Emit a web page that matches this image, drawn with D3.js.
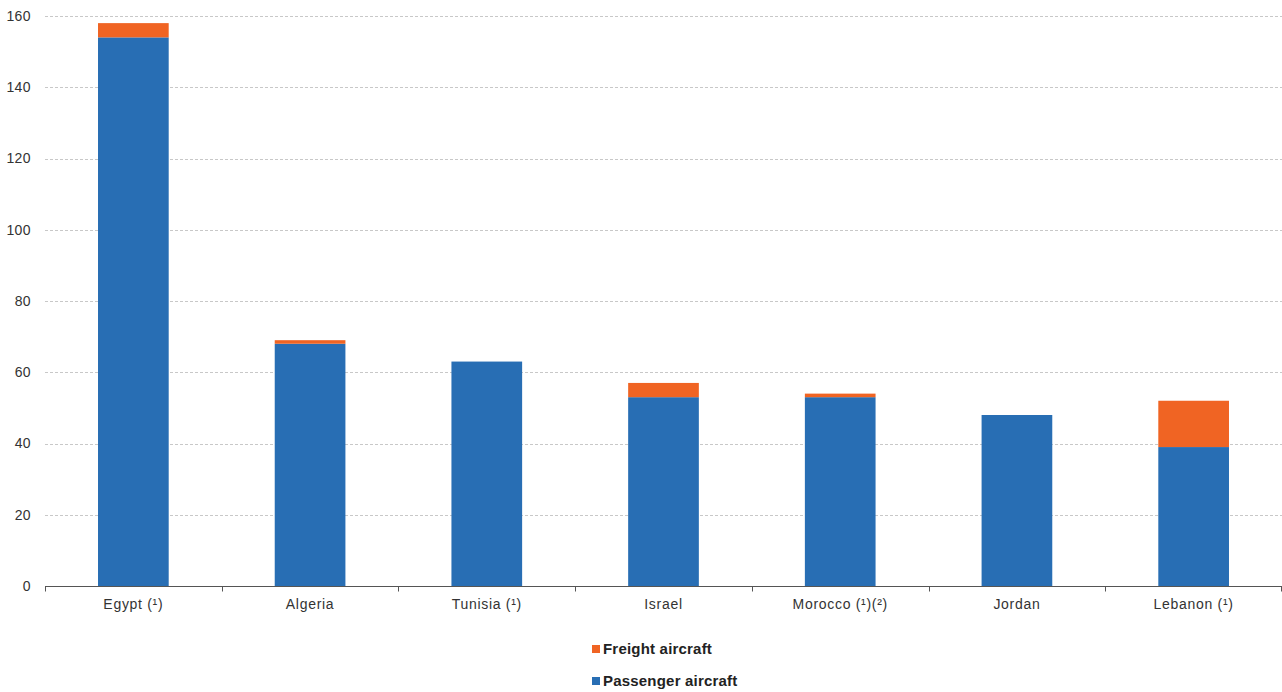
<!DOCTYPE html>
<html>
<head>
<meta charset="utf-8">
<script src="https://cdn.jsdelivr.net/npm/d3@7"></script>
<style>
  html, body { margin: 0; padding: 0; background: #fff; }
  svg { display: block; font-family: "Liberation Sans", Arial, sans-serif; }
</style>
</head>
<body>
<svg id="chart" width="1282" height="692"></svg>
<script>
// Number of aircraft by country
const categories = ["Egypt (¹)", "Algeria", "Tunisia (¹)", "Israel", "Morocco (¹)(²)", "Jordan", "Lebanon (¹)"];
const passenger = [154, 68, 63, 53, 53, 48, 39];
const freight = [4, 1, 0, 4, 1, 0, 13];
const yTicks = [0, 20, 40, 60, 80, 100, 120, 140, 160];
const seriesNames = ["Passenger aircraft", "Freight aircraft"];
const colors = { "Passenger aircraft": "#286EB4", "Freight aircraft": "#F06423" };

const svg = d3.select("#chart");
const margin = { left: 45, right: 0, top: 16, bottom: 106 };
const W = 1282, H = 692;

const x = d3.scaleBand().domain(categories).range([margin.left, W - margin.right]).padding(0);
const y = d3.scaleLinear().domain([0, 160]).range([H - margin.bottom, margin.top]);

// gridlines
svg.append("g")
  .selectAll("line")
  .data(yTicks.filter(t => t > 0))
  .join("line")
  .attr("x1", margin.left).attr("x2", W - margin.right)
  .attr("y1", d => Math.round(y(d)) + 0.5).attr("y2", d => Math.round(y(d)) + 0.5)
  .attr("stroke", "#c8c8c8")
  .attr("stroke-dasharray", "3,2");

// y tick labels
svg.append("g")
  .selectAll("text")
  .data(yTicks)
  .join("text")
  .attr("x", 31)
  .attr("y", d => y(d))
  .attr("dy", "0.35em")
  .attr("text-anchor", "end")
  .attr("font-size", 14)
  .attr("letter-spacing", "0.4px")
  .attr("fill", "#333")
  .text(d => d);

// stacked bars
const rows = categories.map((c, i) => ({ cat: c, "Passenger aircraft": passenger[i], "Freight aircraft": freight[i] }));
const stack = d3.stack().keys(seriesNames)(rows);
const barW = x.bandwidth() * 0.4;

svg.append("g")
  .selectAll("g")
  .data(stack)
  .join("g")
  .attr("fill", d => colors[d.key])
  .selectAll("rect")
  .data(d => d)
  .join("rect")
  .attr("x", d => x(d.data.cat) + (x.bandwidth() - barW) / 2)
  .attr("width", barW)
  .attr("y", d => y(d[1]))
  .attr("height", d => y(d[0]) - y(d[1]));

// x axis line and ticks
const axisY = Math.round(y(0)) + 0.5;
svg.append("line")
  .attr("x1", margin.left).attr("x2", W)
  .attr("y1", axisY).attr("y2", axisY)
  .attr("stroke", "#555").attr("stroke-width", 1);

const boundaries = categories.map(c => x(c)).concat([x(categories[categories.length - 1]) + x.bandwidth()]);
svg.append("g")
  .selectAll("line")
  .data(boundaries)
  .join("line")
  .attr("x1", d => Math.min(Math.round(d), W - 1) + 0.5)
  .attr("x2", d => Math.min(Math.round(d), W - 1) + 0.5)
  .attr("y1", axisY).attr("y2", axisY + 5)
  .attr("stroke", "#555");

svg.append("g")
  .selectAll("text")
  .data(categories)
  .join("text")
  .attr("x", d => x(d) + x.bandwidth() / 2)
  .attr("y", 609)
  .attr("text-anchor", "middle")
  .attr("font-size", 14)
  .attr("letter-spacing", "0.7px")
  .attr("fill", "#333")
  .text(d => d);

// legend
const legendItems = ["Freight aircraft", "Passenger aircraft"];
const lg = svg.append("g")
  .selectAll("g")
  .data(legendItems)
  .join("g")
  .attr("transform", (d, i) => `translate(592, ${649 + i * 32})`);
lg.append("rect")
  .attr("x", 0).attr("y", -4)
  .attr("width", 8).attr("height", 8)
  .attr("fill", d => colors[d]);
lg.append("text")
  .attr("x", 11)
  .attr("y", 0)
  .attr("dy", "0.35em")
  .attr("font-size", 15)
  .attr("font-weight", "bold")
  .attr("letter-spacing", "0.2px")
  .attr("fill", "#222")
  .text(d => d);
</script>
</body>
</html>
